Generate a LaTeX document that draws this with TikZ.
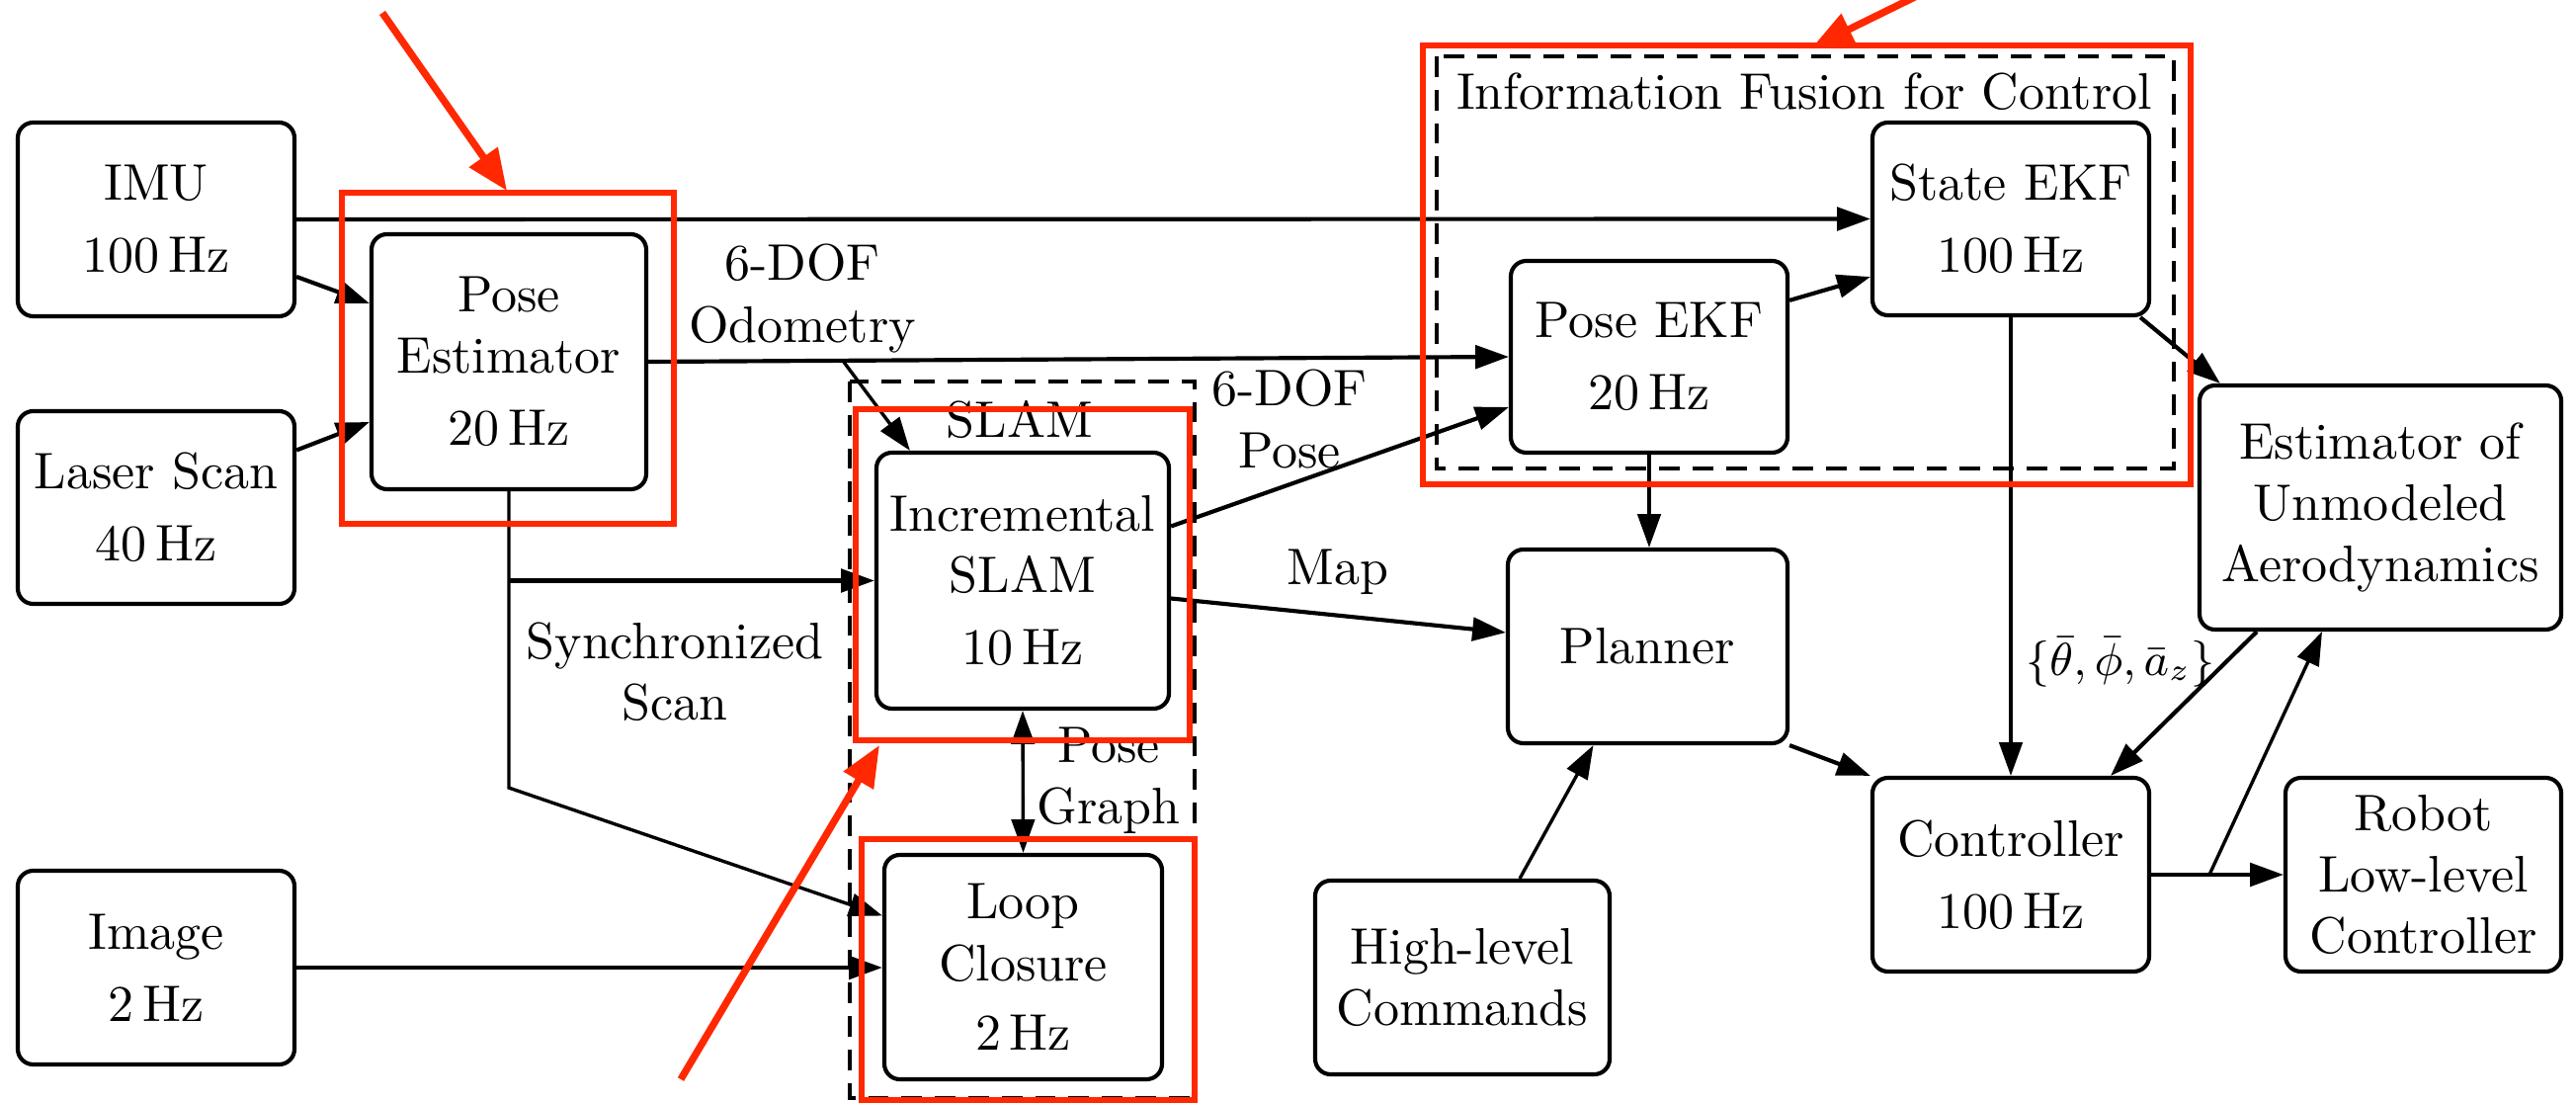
\documentclass[tikz,border=0pt]{standalone}
\usepackage{fontspec}
\usetikzlibrary{arrows.meta,calc}
\definecolor{annot}{RGB}{255,40,0}
\newcommand\pxl[1]{#1*0.1923pt}
\begin{document}
\begin{tikzpicture}[x=0.1923pt,y=-0.1923pt,
 box/.style={draw,rounded corners=3pt,line width=0.8pt,align=center,inner sep=0pt},
 conn/.style={line width=0.8pt,-{Triangle[length=6.5pt,width=4.5pt]}},
 thinconn/.style={line width=0.65pt,-{Triangle[length=6.5pt,width=4.5pt]}},
 group/.style={draw,dash pattern=on 4pt off 2.5pt,line width=0.7pt},
 hilite/.style={draw=annot,line width=1.1pt},
 pointer/.style={annot,line width=1.4pt,-{Triangle[length=8pt,width=6.5pt]}},
 lbl/.style={align=center,inner sep=0pt}]
\useasboundingbox (0,0) rectangle (2607,1116);

% group frames
\draw[group] (860,386) rectangle (1209,1111);
\draw[group] (1454,57) rectangle (2200,474);
\node[lbl] (slamlbl) at (1032,424) {SLAM};
\node[lbl] (fusionlbl) at (1826,93) {Information Fusion for Control};

% boxes
\node[box,minimum width=\pxl{280},minimum height=\pxl{196}] (imu) at (158,222) {IMU\\[2pt]100\,Hz};
\node[box,minimum width=\pxl{280},minimum height=\pxl{195}] (laser) at (158,513.5) {Laser Scan\\[2pt]40\,Hz};
\node[box,minimum width=\pxl{280},minimum height=\pxl{196}] (image) at (158,979) {Image\\[2pt]2\,Hz};
\node[box,minimum width=\pxl{278},minimum height=\pxl{258}] (pe) at (515,366) {Pose\\Estimator\\[2pt]20\,Hz};
\node[box,minimum width=\pxl{296},minimum height=\pxl{259}] (inc) at (1035,587.5) {Incremental\\SLAM\\[2pt]10\,Hz};
\node[box,minimum width=\pxl{281},minimum height=\pxl{227}] (loop) at (1035.5,978.5) {Loop\\Closure\\[1.5pt]2\,Hz};
\node[box,minimum width=\pxl{298},minimum height=\pxl{196}] (hl) at (1480,989) {High-level\\Commands};
\node[box,minimum width=\pxl{280},minimum height=\pxl{194}] (posekf) at (1669,361) {Pose EKF\\[2pt]20\,Hz};
\node[box,minimum width=\pxl{283},minimum height=\pxl{196}] (planner) at (1667.5,654) {Planner};
\node[box,minimum width=\pxl{280},minimum height=\pxl{195}] (stateekf) at (2035,221.5) {State EKF\\[2pt]100\,Hz};
\node[box,minimum width=\pxl{280},minimum height=\pxl{196}] (controller) at (2035,885) {Controller\\[2pt]100\,Hz};
\node[box,minimum width=\pxl{366},minimum height=\pxl{247}] (est) at (2409,513.5) {Estimator of\\Unmodeled\\Aerodynamics};
\node[box,minimum width=\pxl{279},minimum height=\pxl{196}] (robot) at (2452.5,885) {Robot\\Low-level\\Controller};

% labels
\node[lbl] (odolbl) at (812,302) {6-DOF\\Odometry};
\node[lbl] (poselbl) at (1305,424) {6-DOF\\Pose};
\node[lbl] (synclbl) at (683,680) {Synchronized\\Scan};
\node[lbl] (graphlbl) at (1122,790) {Pose\\Graph};
\node[lbl] (maplbl) at (1354,579) {Map};
\node[lbl,font=\small] (anglbl) at (2146,670) {$\{\bar\theta,\bar\phi,\bar a_z\}$};

% connectors
\draw[conn] (imu.east) -- (stateekf.west);
\draw[conn] ($(imu.east)+(0,58)$) -- ($(pe.west)+(0,-59)$);
\draw[conn] ($(laser.east)+(0,-58)$) -- ($(pe.west)+(0,61)$);
\draw[conn] (pe.east) -- (posekf.west);
\coordinate (odo) at ($(pe.east)!0.226!(posekf.west)$);
\draw[thinconn] (odo) -- ($(inc.north west)+(36,0)$);
\coordinate (sc) at ($(pe.south)+(0,300)$);
\draw[thinconn] (pe.south) -- (sc) -- ($(loop.west)+(0,-52)$);
\draw[conn] (pe.south |- inc.west) -- (inc.west);
\draw[conn] ($(inc.east)+(0,-55)$) -- ($(posekf.west)+(0,51)$);
\draw[conn] ($(inc.east)+(0,18)$) -- ($(planner.west)+(0,-14)$);
\draw[thinconn,{Triangle[length=6.5pt,width=4.5pt]}-{Triangle[length=6.5pt,width=4.5pt]}] (inc.south) -- (loop.north);
\draw[conn] (image.east) -- (image.east -| loop.west);
\draw[thinconn] (posekf.south) -- (posekf.south |- planner.north);
\draw[conn] ($(posekf.north east)+(0,42)$) -- ($(stateekf.south west)+(0,-41)$);
\draw[conn] ($(stateekf.south east)+(-11,0)$) -- ($(est.north west)+(23,0)$);
\draw[thinconn] (stateekf.south) -- (controller.north);
\draw[conn] (planner.south east) -- (controller.north west);
\draw[thinconn] ($(hl.north)+(58,0)$) -- ($(planner.south)+(-55,0)$);
\draw[conn] ($(est.south)+(-125,0)$) -- ($(controller.north)+(101,0)$);
\draw[conn] (controller.east) -- (robot.west);
\coordinate (br) at ($(controller.east)!0.44!(robot.west)$);
\draw[thinconn] (br) -- ($(est.south)+(-59,0)$);

% highlights
\draw[hilite] (346,195) rectangle (682,530);
\draw[hilite] (866,414) rectangle (1204,749);
\draw[hilite] (872,849) rectangle (1209,1113);
\draw[hilite] (1440,46) rectangle (2217,490);
\coordinate (p1s) at (387,13);
\coordinate (p1e) at (513,193);
\coordinate (p2s) at (1950,-9);
\coordinate (p2e) at (1834,48);
\coordinate (p3s) at (689,1092);
\coordinate (p3e) at (890,754);
\draw[pointer] (p1s) -- (p1e);
\draw[pointer] (p2s) -- (p2e);
\draw[pointer] (p3s) -- (p3e);
\end{tikzpicture}
\end{document}
